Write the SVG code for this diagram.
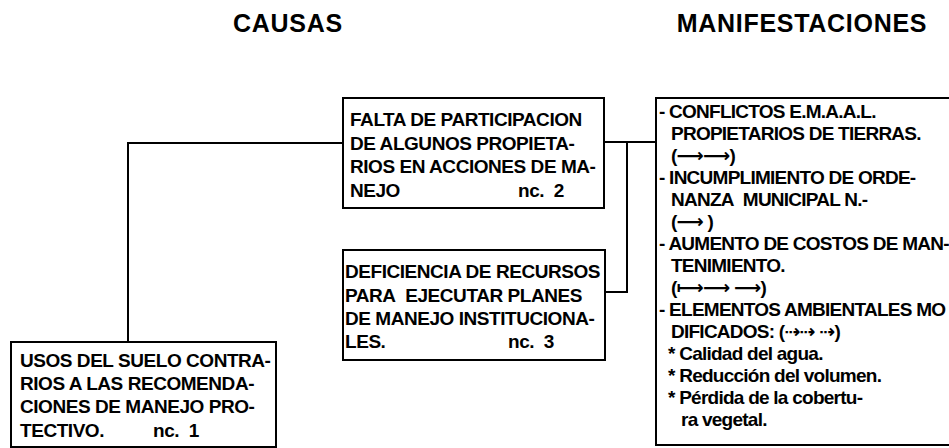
<svg xmlns="http://www.w3.org/2000/svg" width="949" height="448" viewBox="0 0 949 448">
<style>
  .hdr { font-family: "Liberation Sans", Arial, sans-serif; font-weight: bold; font-size: 25px; letter-spacing: 0.7px; fill: #000; }
  .t { font-family: "Liberation Sans", Arial, "DejaVu Sans", sans-serif; font-weight: bold; font-size: 19px; letter-spacing: -0.45px; fill: #000; }
  .m { letter-spacing: -0.75px; }
  .box { fill: #fff; stroke: #000; stroke-width: 2; }
  .conn { fill: none; stroke: #000; stroke-width: 2; }
</style>
<rect x="0" y="0" width="949" height="448" fill="#fff"/>

<text class="hdr" x="288" y="32" text-anchor="middle">CAUSAS</text>
<text class="hdr" x="802" y="32" text-anchor="middle">MANIFESTACIONES</text>

<g id="connectors">
  <polyline class="conn" points="128,342 128,143 343,143"/>
  <line class="conn" x1="604" y1="142" x2="656" y2="142"/>
  <polyline class="conn" points="627,142 627,292 605,292"/>
</g>

<g id="n1">
  <rect class="box" x="11" y="342" width="265" height="105"/>
  <text class="t" x="20" y="367">USOS DEL SUELO CONTRA-</text>
  <text class="t" x="20" y="390">RIOS A LAS RECOMENDA-</text>
  <text class="t" x="20" y="413">CIONES DE MANEJO PRO-</text>
  <text class="t" x="20" y="437">TECTIVO.</text>
  <text class="t" x="153" y="437">nc.&#160; 1</text>
</g>

<g id="n2">
  <rect class="box" x="343" y="98" width="261" height="110"/>
  <text class="t" x="350" y="126">FALTA DE PARTICIPACION</text>
  <text class="t" x="350" y="150">DE ALGUNOS PROPIETA-</text>
  <text class="t" x="350" y="173">RIOS EN ACCIONES DE MA-</text>
  <text class="t" x="350" y="197">NEJO</text>
  <text class="t" x="518" y="197">nc.&#160; 2</text>
</g>

<g id="n3">
  <rect class="box" x="343" y="250" width="262" height="110"/>
  <text class="t" x="345" y="278">DEFICIENCIA DE RECURSOS</text>
  <text class="t" x="345" y="302">PARA&#160; EJECUTAR PLANES</text>
  <text class="t" x="345" y="325">DE MANEJO INSTITUCIONA-</text>
  <text class="t" x="345" y="348">LES.</text>
  <text class="t" x="508" y="348">nc.&#160; 3</text>
</g>

<g id="n4">
  <rect class="box" x="656" y="98" width="310" height="347"/>
  <text class="t m" x="659" y="118">- CONFLICTOS E.M.A.A.L.</text>
  <text class="t m" x="671" y="140">PROPIETARIOS DE TIERRAS.</text>
  <text class="t m" x="671" y="162">(⟶⟶)</text>
  <text class="t m" x="659" y="184">- INCUMPLIMIENTO DE ORDE-</text>
  <text class="t m" x="671" y="206">NANZA&#160; MUNICIPAL N.-</text>
  <text class="t m" x="671" y="228">(⟶ )</text>
  <text class="t m" x="659" y="250">- AUMENTO DE COSTOS DE MAN-</text>
  <text class="t m" x="671" y="272">TENIMIENTO.</text>
  <text class="t m" x="671" y="294">(⟼⟶ ⟶)</text>
  <text class="t m" x="659" y="316">- ELEMENTOS AMBIENTALES MO</text>
  <text class="t m" x="671" y="338">DIFICADOS: (⇢⇢ ⇢)</text>
  <text class="t m" x="668" y="360">* Calidad del agua.</text>
  <text class="t m" x="668" y="382">* Reducción del volumen.</text>
  <text class="t m" x="668" y="404">* Pérdida de la cobertu-</text>
  <text class="t m" x="681" y="426">ra vegetal.</text>
</g>
</svg>
